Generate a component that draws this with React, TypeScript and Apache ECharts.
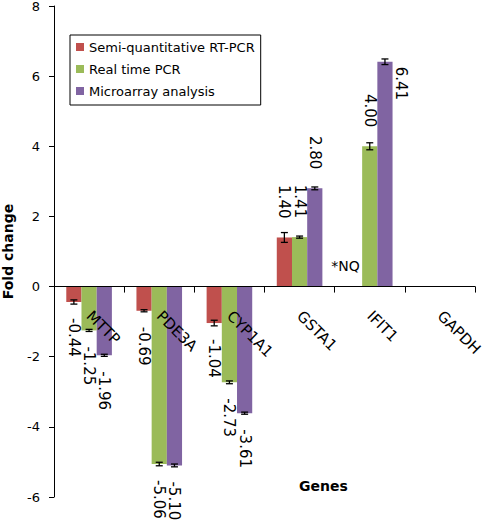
import React, { useEffect, useRef } from 'react';
import * as echarts from 'echarts';

const genes = ['MTTP', 'PDE3A', 'CYP1A1', 'GSTA1', 'IFIT1', 'GAPDH'];
const seriesNames = ['Semi-quantitative RT-PCR', 'Real time PCR', 'Microarray analysis'];
const semiQuant: (number | null)[] = [-0.44, -0.69, -1.04, 1.40, null, 0];
const realTime: (number | null)[] = [-1.25, -5.06, -2.73, 1.41, 4.00, 0];
const microarray: (number | null)[] = [-1.96, -5.10, -3.61, 2.80, 6.41, 0];
const semiQuantErr: (number | null)[] = [0.06, 0.03, 0.08, 0.14, null, 0];
const realTimeErr: (number | null)[] = [0.03, 0.05, 0.04, 0.03, 0.10, 0];
const microarrayErr: (number | null)[] = [0.03, 0.04, 0.03, 0.04, 0.08, 0];
const notQuantifiedText = '*NQ';
const sideLabel: [number, number][] = [[2, 4]]; // [series, gene] labels drawn beside the bar
const yMin = -6;
const yMax = 8;
const yInterval = 2;
const yAxisTitle = 'Fold change';
const xAxisTitle = 'Genes';
const colors = ['#C0504D', '#9BBB59', '#8064A2'];

const FONT = 'DejaVu Sans';
const CAT_GAP = 0.35;
const GRID_TOP = 6;
const GRID_BOTTOM = 26;
const HEIGHT = 523;

export default function App() {
  const ref = useRef<HTMLDivElement>(null);
  useEffect(() => {
    document.body.style.margin = '0';
    const chart = echarts.init(ref.current!, null, { renderer: 'svg' });
    const values = [semiQuant, realTime, microarray];
    const errors = [semiQuantErr, realTimeErr, microarrayErr];

    const plotH = HEIGHT - GRID_TOP - GRID_BOTTOM;
    // move the category axis (line, ticks and labels) up to the zero line
    const zeroFromBottom = (plotH * (0 - yMin)) / (yMax - yMin);

    const barSeries = values.map((arr, si) => ({
      type: 'bar',
      name: seriesNames[si],
      barGap: '0%',
      barCategoryGap: CAT_GAP * 100 + '%',
      itemStyle: { color: colors[si] },
      data: arr.map((v, ci) => {
        if (v === null) {
          return {
            value: 0,
            label: {
              show: true,
              formatter: notQuantifiedText,
              position: 'top',
              rotate: 0,
              distance: 14,
              offset: [-9, 0],
              fontSize: 14,
              fontFamily: FONT,
              color: '#000',
            },
          };
        }
        if (v === 0) return { value: 0, label: { show: false } };
        const pos = v > 0;
        const side = sideLabel.some(([s, c]) => s === si && c === ci);
        return {
          value: v,
          label: {
            show: true,
            formatter: (p: any) => Number(p.value).toFixed(2),
            position: side ? 'top' : pos ? 'top' : 'bottom',
            rotate: -90,
            align: side ? 'left' : pos ? 'right' : 'left',
            verticalAlign: 'middle',
            distance: side ? 0 : pos ? 19 : 16,
            offset: side ? [5, -16] : [0, 0],
            fontSize: 15,
            fontFamily: FONT,
            color: '#000',
          },
        };
      }),
    }));

    const errData: number[][] = [];
    values.forEach((arr, si) => {
      arr.forEach((v, ci) => {
        const e = errors[si][ci];
        if (v !== null && e !== null && v !== 0) errData.push([ci, v, e, si]);
      });
    });

    const errSeries = {
      type: 'custom',
      name: 'err',
      z: 5,
      encode: { x: 0, y: 1 },
      data: errData,
      renderItem: (params: any, api: any) => {
        const ci = api.value(0);
        const v = api.value(1);
        const e = api.value(2);
        const si = api.value(3);
        const band = api.size([1, 0])[0];
        const bw = (band * (1 - CAT_GAP)) / 3;
        const cx = api.coord([ci, v])[0] + (si - 1) * bw;
        const yHi = api.coord([ci, v + e])[1];
        const yLo = api.coord([ci, v - e])[1];
        const cap = 3.5;
        const style = { stroke: '#000', lineWidth: 1.3 };
        return {
          type: 'group',
          children: [
            { type: 'line', shape: { x1: cx, y1: yHi, x2: cx, y2: yLo }, style },
            { type: 'line', shape: { x1: cx - cap, y1: yHi, x2: cx + cap, y2: yHi }, style },
            { type: 'line', shape: { x1: cx - cap, y1: yLo, x2: cx + cap, y2: yLo }, style },
          ],
        };
      },
    };

    chart.setOption({
      animation: false,
      backgroundColor: '#fff',
      textStyle: { fontFamily: FONT },
      grid: { left: 54, right: 8, top: GRID_TOP, bottom: GRID_BOTTOM, outerBoundsMode: 'none' },
      legend: {
        data: seriesNames,
        orient: 'vertical',
        left: 70,
        top: 35,
        padding: [4, 6, 6, 6],
        borderColor: '#000',
        borderWidth: 1,
        backgroundColor: '#fff',
        icon: 'rect',
        itemWidth: 8,
        itemHeight: 8,
        itemGap: 6,
        textStyle: { fontSize: 13, lineHeight: 16, fontFamily: FONT, color: '#000' },
      },
      xAxis: {
        type: 'category',
        data: genes,
        position: 'bottom',
        offset: -zeroFromBottom,
        z: 10,
        axisLine: { onZero: false, lineStyle: { color: '#000', width: 1 } },
        axisTick: { show: true, length: 6, lineStyle: { color: '#000' } },
        axisLabel: {
          interval: 0,
          rotate: -45,
          margin: 27,
          fontSize: 15,
          fontFamily: FONT,
          color: '#000',
        },
        splitLine: { show: false },
      },
      yAxis: {
        type: 'value',
        min: yMin,
        max: yMax,
        interval: yInterval,
        name: yAxisTitle,
        nameLocation: 'middle',
        nameGap: 39,
        nameTextStyle: { fontSize: 14, fontWeight: 'bold', fontFamily: FONT, color: '#000' },
        axisLine: { show: true, lineStyle: { color: '#000', width: 1 } },
        axisTick: { show: true, length: 5, lineStyle: { color: '#000' } },
        axisLabel: { fontSize: 13, margin: 14, fontFamily: FONT, color: '#000' },
        splitLine: { show: false },
      },
      graphic: [
        {
          type: 'text',
          left: 299,
          top: 479,
          style: { text: xAxisTitle, font: `bold 14px "${FONT}"`, fill: '#000' },
        },
      ],
      series: [...barSeries, errSeries],
    });
    return () => chart.dispose();
  }, []);
  return (
    <div
      ref={ref}
      style={{ position: 'absolute', left: 0, top: 0, width: 483, height: 523 }}
    />
  );
}
